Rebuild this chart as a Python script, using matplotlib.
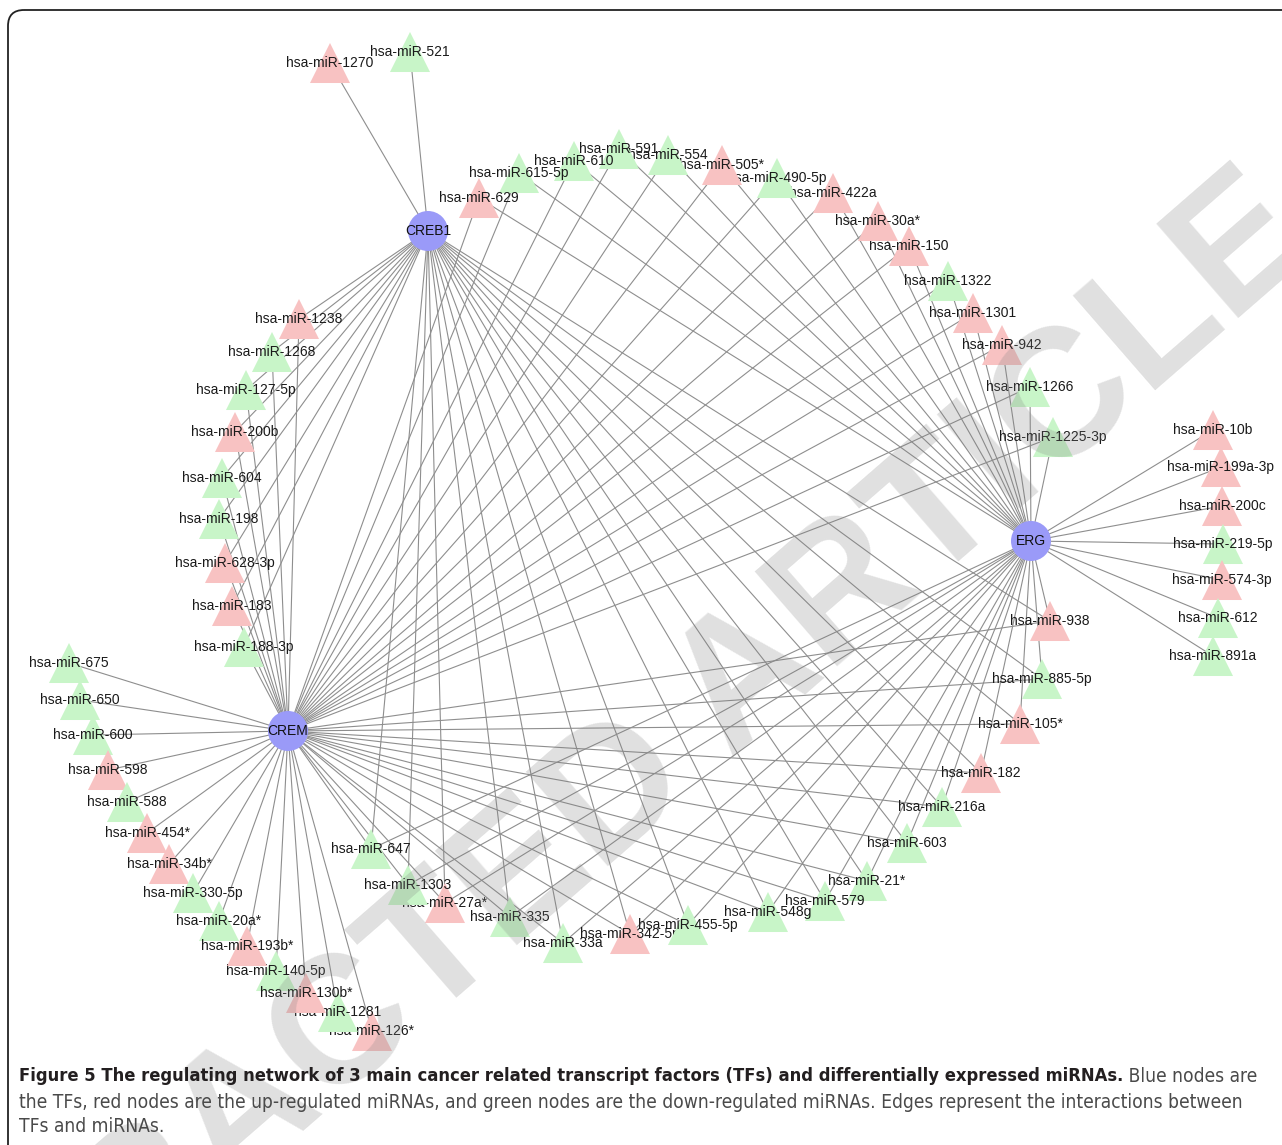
import matplotlib
matplotlib.use('Agg')
import matplotlib.pyplot as plt
from matplotlib.collections import LineCollection
from matplotlib.patches import FancyBboxPatch
from matplotlib import font_manager

# ---- data: transcription factors and the miRNAs they regulate ----
tf_names = ['CREB1', 'CREM', 'ERG']

# miRNAs grouped by the TFs they are linked to
creb1_only = ['hsa-miR-1270', 'hsa-miR-521']
creb1_crem = ['hsa-miR-1238', 'hsa-miR-1268', 'hsa-miR-127-5p', 'hsa-miR-200b',
              'hsa-miR-604', 'hsa-miR-198', 'hsa-miR-628-3p', 'hsa-miR-183',
              'hsa-miR-188-3p']
crem_only = ['hsa-miR-675', 'hsa-miR-650', 'hsa-miR-600', 'hsa-miR-598',
             'hsa-miR-588', 'hsa-miR-454*', 'hsa-miR-34b*', 'hsa-miR-330-5p',
             'hsa-miR-20a*', 'hsa-miR-140-5p', 'hsa-miR-193b*', 'hsa-miR-126*',
             'hsa-miR-1281', 'hsa-miR-130b*']
crem_erg = ['hsa-miR-1225-3p', 'hsa-miR-1266', 'hsa-miR-942', 'hsa-miR-1301',
            'hsa-miR-1322', 'hsa-miR-150', 'hsa-miR-30a*', 'hsa-miR-422a',
            'hsa-miR-490-5p', 'hsa-miR-505*', 'hsa-miR-554', 'hsa-miR-591',
            'hsa-miR-610', 'hsa-miR-615-5p', 'hsa-miR-629']
erg_only = ['hsa-miR-10b', 'hsa-miR-199a-3p', 'hsa-miR-200c', 'hsa-miR-219-5p',
            'hsa-miR-574-3p', 'hsa-miR-612', 'hsa-miR-891a']
all_three = ['hsa-miR-938', 'hsa-miR-885-5p', 'hsa-miR-105*', 'hsa-miR-182',
             'hsa-miR-216a', 'hsa-miR-603', 'hsa-miR-21*', 'hsa-miR-579',
             'hsa-miR-548g', 'hsa-miR-342-5p', 'hsa-miR-455-5p', 'hsa-miR-33a',
             'hsa-miR-335', 'hsa-miR-27a*', 'hsa-miR-1303', 'hsa-miR-647']

up_regulated = ['hsa-miR-1270', 'hsa-miR-1238', 'hsa-miR-200b', 'hsa-miR-628-3p',
                'hsa-miR-183', 'hsa-miR-598', 'hsa-miR-454*', 'hsa-miR-34b*',
                'hsa-miR-193b*', 'hsa-miR-130b*', 'hsa-miR-126*', 'hsa-miR-629',
                'hsa-miR-505*', 'hsa-miR-422a', 'hsa-miR-30a*', 'hsa-miR-150',
                'hsa-miR-1301', 'hsa-miR-942', 'hsa-miR-10b', 'hsa-miR-199a-3p',
                'hsa-miR-200c', 'hsa-miR-574-3p', 'hsa-miR-938', 'hsa-miR-105*',
                'hsa-miR-182', 'hsa-miR-342-5p', 'hsa-miR-27a*']

groups = [(creb1_only, ['CREB1']), (creb1_crem, ['CREB1', 'CREM']),
          (crem_only, ['CREM']), (crem_erg, ['CREM', 'ERG']),
          (erg_only, ['ERG']), (all_three, ['CREB1', 'CREM', 'ERG'])]

# ---- layout (pixel positions of the network drawing) ----
tf_layout = {'CREB1': (428, 231), 'CREM': (288, 731), 'ERG': (1031, 541)}
layout = {
    'hsa-miR-1270': (330, 63), 'hsa-miR-521': (410, 52),
    'hsa-miR-1238': (299, 319), 'hsa-miR-1268': (272, 352), 'hsa-miR-127-5p': (246, 390),
    'hsa-miR-200b': (235, 432), 'hsa-miR-604': (222, 478), 'hsa-miR-198': (219, 519),
    'hsa-miR-628-3p': (225, 563), 'hsa-miR-183': (232, 606), 'hsa-miR-188-3p': (244, 647),
    'hsa-miR-675': (69, 663), 'hsa-miR-650': (80, 700), 'hsa-miR-600': (93, 735),
    'hsa-miR-598': (108, 770), 'hsa-miR-588': (127, 802), 'hsa-miR-454*': (147, 833),
    'hsa-miR-34b*': (169, 864), 'hsa-miR-330-5p': (193, 893), 'hsa-miR-20a*': (219, 921),
    'hsa-miR-193b*': (247, 946), 'hsa-miR-140-5p': (276, 971), 'hsa-miR-130b*': (306, 993),
    'hsa-miR-1281': (338, 1012), 'hsa-miR-126*': (372, 1031),
    'hsa-miR-629': (479, 198), 'hsa-miR-615-5p': (519, 173), 'hsa-miR-610': (574, 161),
    'hsa-miR-591': (619, 149), 'hsa-miR-554': (668, 155), 'hsa-miR-505*': (722, 165),
    'hsa-miR-490-5p': (777, 178), 'hsa-miR-422a': (833, 193), 'hsa-miR-30a*': (878, 221),
    'hsa-miR-150': (909, 246), 'hsa-miR-1322': (948, 281), 'hsa-miR-1301': (973, 313),
    'hsa-miR-942': (1002, 345), 'hsa-miR-1266': (1030, 387), 'hsa-miR-1225-3p': (1053, 437),
    'hsa-miR-10b': (1213, 430), 'hsa-miR-199a-3p': (1221, 467), 'hsa-miR-200c': (1222, 506),
    'hsa-miR-219-5p': (1223, 544), 'hsa-miR-574-3p': (1222, 580), 'hsa-miR-612': (1218, 618),
    'hsa-miR-891a': (1213, 656),
    'hsa-miR-938': (1050, 621), 'hsa-miR-885-5p': (1042, 679), 'hsa-miR-105*': (1020, 724),
    'hsa-miR-182': (981, 773), 'hsa-miR-216a': (942, 807), 'hsa-miR-603': (907, 843),
    'hsa-miR-21*': (867, 881), 'hsa-miR-579': (825, 901), 'hsa-miR-548g': (768, 912),
    'hsa-miR-455-5p': (688, 925), 'hsa-miR-342-5p': (630, 934), 'hsa-miR-33a': (563, 943),
    'hsa-miR-335': (510, 917), 'hsa-miR-27a*': (445, 903), 'hsa-miR-1303': (408, 885),
    'hsa-miR-647': (371, 849),
}

red = '#f8c2c2'
green = '#c8f5c8'
blue = '#9a9af8'
edge_col = '#8e8e8e'

fm = font_manager.fontManager
names = {f.name for f in fm.ttflist}
label_font = 'Liberation Sans' if 'Liberation Sans' in names else 'DejaVu Sans'


def narrow_font(bold):
    # look for any condensed / narrow face for the caption
    for f in fm.ttflist:
        narrow = ('Narrow' in f.name or 'Condensed' in f.name
                  or f.stretch in ('condensed', 'semi-condensed', 'extra-condensed'))
        if not narrow or 'Mono' in f.name or f.style != 'normal':
            continue
        wt = f.weight if isinstance(f.weight, int) else (700 if f.weight == 'bold' else 400)
        if (bold and wt >= 600) or (not bold and 350 <= wt <= 500):
            return font_manager.FontProperties(fname=f.fname)
    return font_manager.FontProperties(family=label_font,
                                       weight='bold' if bold else 'normal')


cap_bold = narrow_font(True)
cap_reg = narrow_font(False)

fig = plt.figure(figsize=(12.82, 11.45), dpi=100)
ax = fig.add_axes([0, 0, 1, 1])
ax.set_xlim(0, 1282)
ax.set_ylim(1145, 0)
ax.axis('off')

# frame
frame = FancyBboxPatch((8, 10), 1400, 1400, boxstyle='round,pad=0,rounding_size=16',
                       fc='none', ec='#222222', lw=1.3, zorder=0)
ax.add_patch(frame)

# edges
segs = []
for members, tfs in groups:
    for m in members:
        for tf in tfs:
            segs.append([layout[m], tf_layout[tf]])
ax.add_collection(LineCollection(segs, colors=edge_col, linewidths=0.8, zorder=1))

# miRNA nodes, each label drawn right after its triangle
z = 10
for members, tfs in groups:
    for m in members:
        x, y = layout[m]
        ax.scatter([x], [y], marker='^', s=830, c=red if m in up_regulated else green,
                   edgecolors='none', zorder=z)
        ax.text(x, y, m, ha='center', va='center', fontsize=10, family=label_font,
                color='#1a1a1a', zorder=z + 1)
        z += 2

# TF nodes
for tf in tf_names:
    x, y = tf_layout[tf]
    ax.scatter([x], [y], marker='o', s=830, c=blue, edgecolors='none', zorder=z)
    ax.text(x, y, tf, ha='center', va='center', fontsize=10, family=label_font,
            color='#111111', zorder=z + 1)

# caption
r = fig.canvas.get_renderer()
bold = ('Figure 5 The regulating network of 3 main cancer related transcript '
        'factors (TFs) and differentially expressed miRNAs.')
line1_rest = ' Blue nodes are'
line2 = ('the TFs, red nodes are the up-regulated miRNAs, and green nodes are the '
         'down-regulated miRNAs. Edges represent the interactions between')
line3 = 'TFs and miRNAs.'

t1 = ax.text(19, 1076, bold, fontproperties=cap_bold, fontsize=13,
             color='#231f20', va='center', ha='left', zorder=600)
w = t1.get_window_extent(renderer=r).width
t1.set_fontsize(min(15, 13 * 1106 / w))
w1 = t1.get_window_extent(renderer=r).width

t2 = ax.text(19, 1102, line2, fontproperties=cap_reg, fontsize=13, color='#4a4a4a',
             va='center', ha='left', zorder=600)
w = t2.get_window_extent(renderer=r).width
reg_size = min(15, 13 * 1227 / w)
t2.set_fontsize(reg_size)
ax.text(19 + w1, 1076, line1_rest, fontproperties=cap_reg, fontsize=reg_size,
        color='#4a4a4a', va='center', ha='left', zorder=600)
ax.text(19, 1126, line3, fontproperties=cap_reg, fontsize=reg_size, color='#4a4a4a',
        va='center', ha='left', zorder=600)

# retraction watermark
ax.text(558, 847, 'RETRACTED ARTICLE', fontsize=130, fontweight='bold', family=label_font,
        rotation=41, rotation_mode='anchor', ha='center', va='center',
        color='#7f7f7f', alpha=0.24, zorder=500)

fig.savefig('out.png', dpi=100)
